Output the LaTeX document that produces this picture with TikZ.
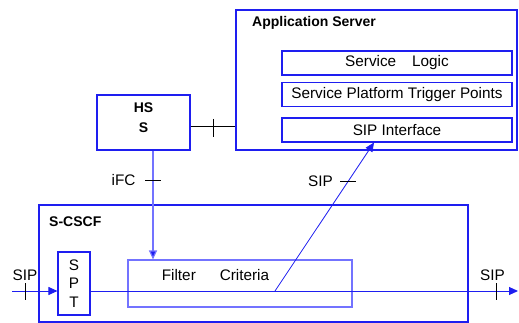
\documentclass[tikz,border=0pt]{standalone}
\usepackage{fontspec}
\setmainfont{Liberation Sans}
\usepackage{tikz}
\usetikzlibrary{arrows.meta}
\definecolor{boxblue}{RGB}{30,30,240}
\definecolor{paleblue}{RGB}{115,115,255}
\tikzset{%
  tipA/.tip={Triangle[length=9pt,width=8pt]},
  box/.style={draw=boxblue, line width=1.4pt, inner sep=0pt},
  inbox/.style={draw=boxblue, line width=1.1pt, inner sep=0pt, minimum width=230, minimum height=24},
  title/.style={inner sep=0pt, font=\fontsize{14}{16}\selectfont\bfseries},
  sipline/.style={draw=boxblue, line width=1pt},
  tick/.style={draw=black, line width=0.8pt}
}

\begin{document}
\begin{tikzpicture}[x=1pt,y=-1pt,font=\fontsize{15.3}{18.5}\selectfont]
\useasboundingbox (0,0) rectangle (519,323);
% application server
\node[box, minimum width=281, minimum height=140] (as) at (376.5,80) {};
\node[title, anchor=west] (astitle) at (252,23) {Application Server};
\node[inbox] (logic) at (397,63) {Service\hspace{16pt}Logic};
\node[inbox] (trig) at (397,94.5) {Service Platform Trigger Points};
\node[inbox] (sipif) at (397,130) {SIP Interface};
% hss
\node[box, minimum width=93, minimum height=55] (hss) at (143.5,122.5) {};
\node[title, align=center] (hsstext) at (143.5,118) {HS\\[4pt]S};
% s-cscf
\node[box, minimum width=429, minimum height=117] (scscf) at (253.5,263.5) {};
\node[title, anchor=west] (scscftitle) at (49,222) {S-CSCF};
\node[box, line width=1.1pt, minimum width=32, minimum height=63, align=center] (spt) at (74,283.5) {S\\P\\T};
\node[draw=paleblue, line width=1.1pt, inner sep=0pt, minimum width=224, minimum height=47] (fc) at (240,283.5) {};
\node[inner sep=0pt] (fctext) at (215.5,275) {Filter\hspace{24pt}Criteria};
\coordinate (sipin) at (12,291);
\coordinate (sipout) at (518,291);
\coordinate (branch) at (275,291);
% connectors
\draw[line width=0.8pt] ([yshift=-4.2pt]hss.east) -- ([yshift=-4.2pt]hss.east -| as.west);
\draw[tick] (213,119) -- (213,137);
\draw[draw=paleblue, line width=1.2pt, -{tipA[fill=boxblue]}] ([xshift=9.5pt]hss.south) -- ([xshift=9.5pt]hss.south |- fc.north);
\node[inner sep=0pt] (ifc) at (123.5,180) {iFC};
\draw[tick] (145,180) -- (161,180);
\draw[sipline, -tipA] (sipin) -- (sipin -| spt.west);
\draw[sipline, -tipA] (sipin -| spt.east) -- (sipout);
\draw[sipline, line width=0.8pt, -tipA] (branch) -- ([xshift=-23pt]sipif.south);
\node[inner sep=0pt] (sipleft) at (25,275) {SIP};
\draw[tick] (25,283) -- (25,300);
\node[inner sep=0pt] (sipright) at (492.5,275) {SIP};
\draw[tick] (496,283) -- (496,300);
\node[inner sep=0pt] (sipmid) at (320.5,181) {SIP};
\draw[tick] (340,181) -- (356,181);
\end{tikzpicture}
\end{document}
